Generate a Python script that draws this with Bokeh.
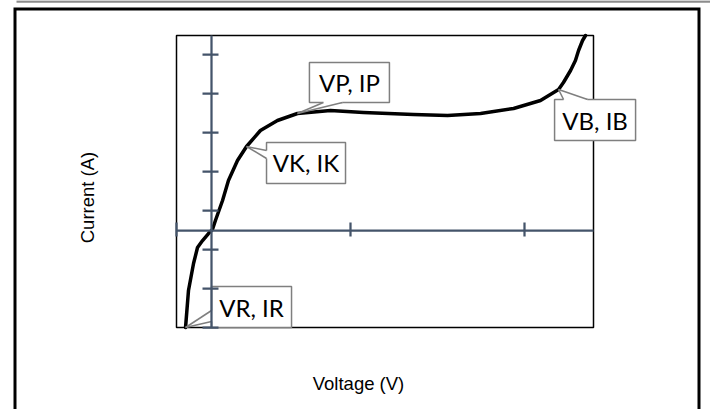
import math
from bokeh.plotting import figure
from bokeh.models import LinearAxis, FixedTicker, Label, ColumnDataSource, Range1d
from bokeh.core.properties import value
from bokeh.embed import file_html
from bokeh.resources import INLINE

# ---------------- data ----------------
voltage = [-0.148, -0.131, -0.102, -0.079, -0.050, -0.016, 0.007, 0.024, 0.065,
           0.099, 0.151, 0.203, 0.283, 0.381, 0.496, 0.686, 0.876, 1.164, 1.360,
           1.550, 1.740, 1.895, 1.999, 2.027, 2.068, 2.096, 2.114, 2.137, 2.154]
current = [-2.50, -1.55, -0.857, -0.446, -0.266, -0.086, 0.017, 0.248, 0.762,
           1.275, 1.789, 2.149, 2.560, 2.817, 2.996, 3.073, 3.022, 2.971, 2.945,
           2.996, 3.125, 3.330, 3.613, 3.793, 4.101, 4.358, 4.615, 4.872, 5.0]
x_ticks = [-0.2, 0.8, 1.8]
y_ticks = [-2.5, -1.5, -0.5, 0.5, 1.5, 2.5, 3.5, 4.5]
x_min, x_max = -0.2, 2.2
y_min, y_max = -2.5, 5.0
callout_text = ["VR, IR", "VK, IK", "VP, IP", "VB, IB"]
callout_index = [0, 11, 14, 22]
x_title = "Voltage (V)"
y_title = "Current (A)"

# ---------------- layout / style (pixels) ----------------
W, H = 710, 409
PL, PR, PT, PB = 176, 593, 35, 327          # plot-area edges on the canvas
kx = (PR - PL) / (x_max - x_min)            # px per x unit
ky = (PB - PT) / (y_max - y_min)            # px per y unit
x_lo = x_min - PL / kx
y_hi = y_max + PT / ky


def X(px):
    return x_lo + px / kx


def Y(py):
    return y_hi - py / ky


AX = "#44546A"
GRAY = "#7f7f7f"

# callout boxes (left, right, top, bottom) in px relative to the anchor point
box_rel = [(26, 106, -41, 0), (20, 99, -4, 37), (12, 92, -51, -11), (-4, 77, 10, 51)]
# tail bases on the box edge, px relative to anchor (dx right, dy down)
tail_base = [((26, -17), (26, -6)), ((20, 4), (20, 12)),
             ((26, -11), (45, -11)), ((5, 10), (29, 10))]

p = figure(width=W, height=H, x_range=Range1d(X(0), X(W)),
           y_range=Range1d(Y(H), Y(0)), x_axis_type=None, y_axis_type=None,
           toolbar_location=None, output_backend="svg",
           min_border_left=0, min_border_right=0, min_border_top=0,
           min_border_bottom=0, outline_line_color=None,
           background_fill_color="white", border_fill_color="white")

# top grey rule and outer chart border
p.line([X(16), X(W + 5)], [Y(1), Y(1)], line_color="#8c8c8c", line_width=2.5)
p.line([X(14.5), X(14.5), X(698.5), X(698.5)],
       [Y(H + 10), Y(8.5), Y(8.5), Y(H + 10)],
       line_color="black", line_width=3, line_join="miter")

# plot-area border
p.quad(left=[x_min], right=[x_max], bottom=[y_min], top=[y_max],
       fill_color=None, line_color="black", line_width=1.5)

# crossing axes
xaxis = LinearAxis(fixed_location=0, bounds=(x_min, x_max),
                   ticker=FixedTicker(ticks=x_ticks),
                   axis_line_color=AX, axis_line_width=2.25,
                   major_tick_line_color=AX, major_tick_line_width=2.25,
                   major_tick_in=6, major_tick_out=8, minor_tick_line_color=None,
                   major_label_overrides={t: "" for t in x_ticks},
                   major_label_standoff=0)
p.add_layout(xaxis, "above")
yaxis = LinearAxis(fixed_location=0, bounds=(y_min, y_max),
                   ticker=FixedTicker(ticks=y_ticks),
                   axis_line_color=AX, axis_line_width=2.25,
                   major_tick_line_color=AX, major_tick_line_width=2.25,
                   major_tick_in=9, major_tick_out=7, minor_tick_line_color=None,
                   major_label_overrides={t: "" for t in y_ticks},
                   major_label_standoff=0)
p.add_layout(yaxis, "right")

# curve
src = ColumnDataSource(dict(v=voltage, i=current))
p.line("v", "i", source=src, line_color="black", line_width=3.5,
       line_join="round", line_cap="round")

# callouts
bl, br, bb, bt, tx, ty = [], [], [], [], [], []
patch_xs, patch_ys, edge_xs, edge_ys = [], [], [], []
for idx, (l, r, t, b), (b1, b2) in zip(callout_index, box_rel, tail_base):
    ax, ay = voltage[idx], current[idx]
    bl.append(ax + l / kx)
    br.append(ax + r / kx)
    bt.append(ay - t / ky)
    bb.append(ay - b / ky)
    tx.append(ax + (l + r) / 2 / kx)
    ty.append(ay - (t + b) / 2 / ky)
    cdx, cdy = (l + r) / 2, (t + b) / 2
    if b1[0] == b2[0]:
        sh = (2 if cdx > b1[0] else -2, 0)
    else:
        sh = (0, 2 if cdy > b1[1] else -2)
    pts = [(b1[0] + sh[0], b1[1] + sh[1]), b1, (0, 0), b2,
           (b2[0] + sh[0], b2[1] + sh[1])]
    patch_xs.append([ax + dx / kx for dx, dy in pts])
    patch_ys.append([ay - dy / ky for dx, dy in pts])
    for e in (b1, b2):
        edge_xs.append([ax + e[0] / kx, ax])
        edge_ys.append([ay - e[1] / ky, ay])

p.quad(left=bl, right=br, bottom=bb, top=bt, fill_color="white",
       line_color=GRAY, line_width=1.5)
p.patches(patch_xs, patch_ys, fill_color="white", line_color=None)
p.multi_line(edge_xs, edge_ys, line_color=GRAY, line_width=1.5)
csrc = ColumnDataSource(dict(x=tx, y=ty, t=callout_text))
p.text("x", "y", text="t", source=csrc, text_align="center",
       text_baseline="middle", text_font=value("Lato"),
       text_font_size="24px", text_color="black")

# axis titles
p.add_layout(Label(x=X(358), y=Y(383), text=x_title, text_align="center",
                   text_baseline="middle", text_font="Liberation Sans",
                   text_font_size="18.5px", text_color="black"))
p.add_layout(Label(x=X(87), y=Y(197), text=y_title, angle=math.pi / 2,
                   text_align="center", text_baseline="middle",
                   text_font="Liberation Sans", text_font_size="18.5px",
                   text_color="black"))

open("out.html", "w").write(file_html(p, INLINE))
